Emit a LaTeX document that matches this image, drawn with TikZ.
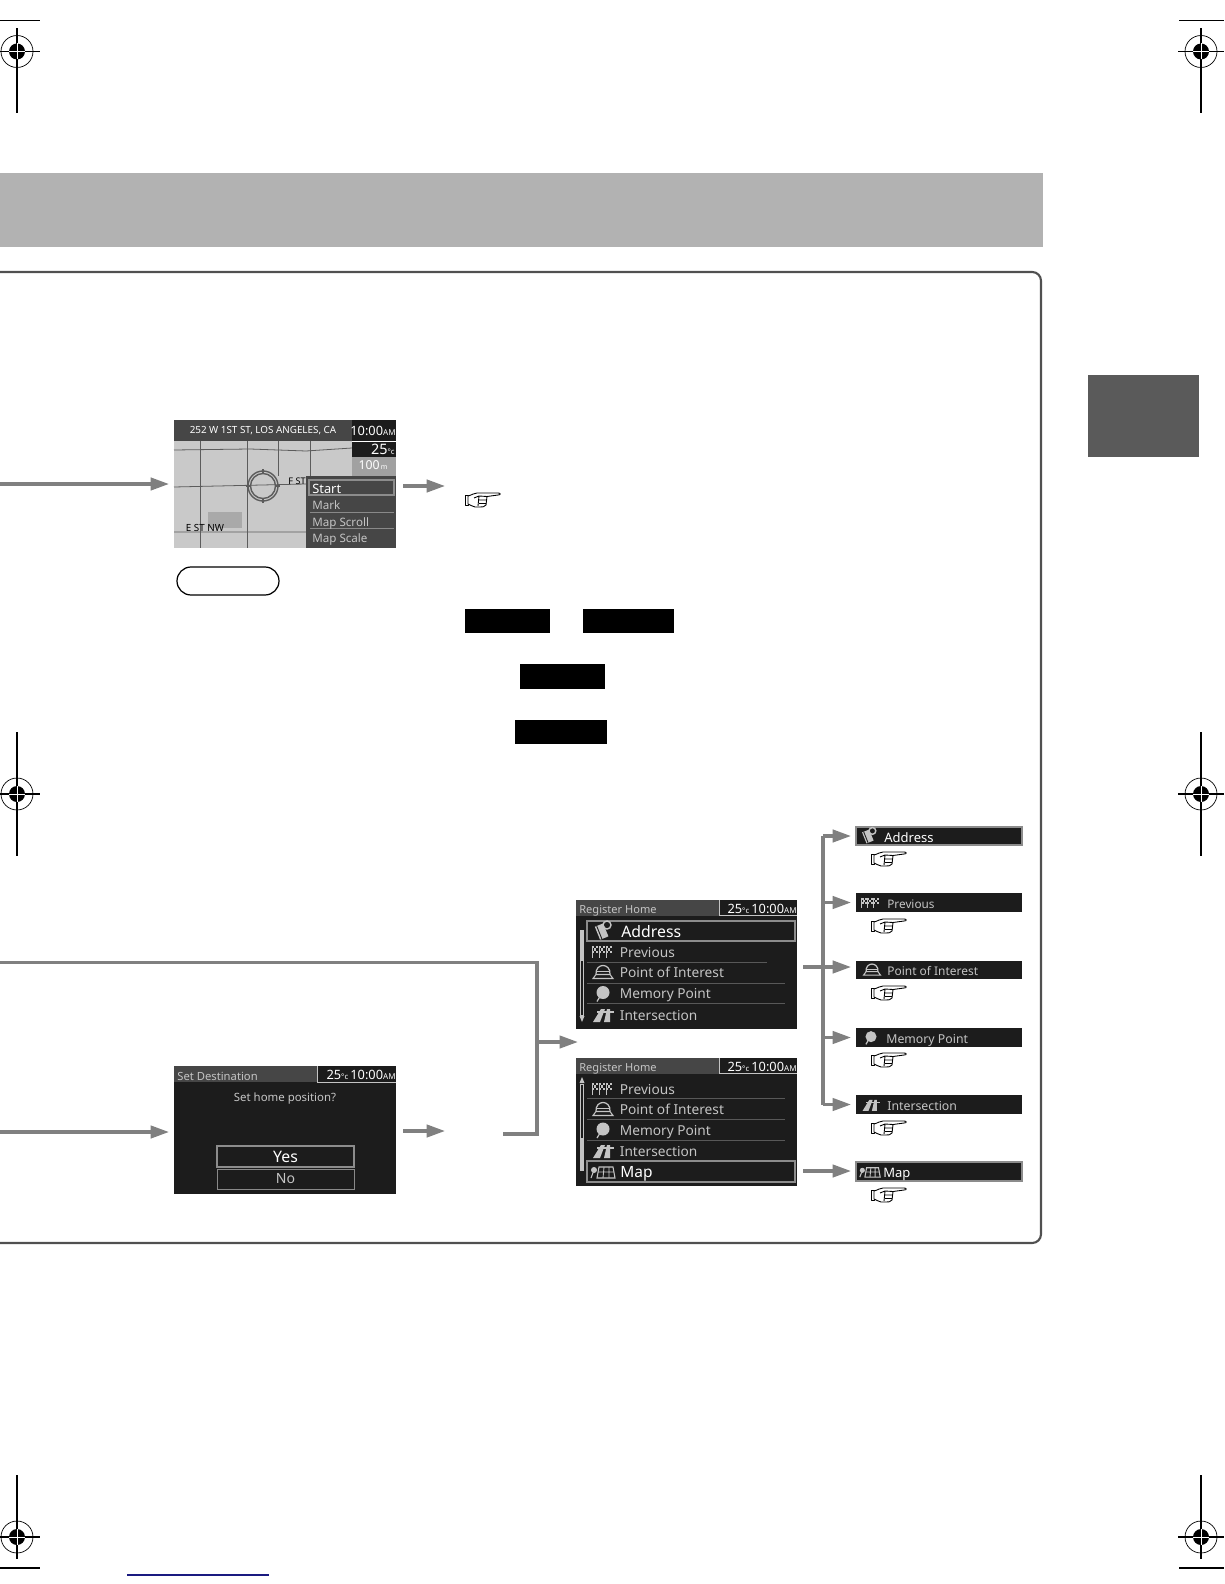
\documentclass[tikz,border=0pt]{standalone}
\usepackage{fontspec}
\setmainfont{Noto Sans}
\usetikzlibrary{arrows.meta,positioning}
\definecolor{flowgray}{HTML}{808080}
\definecolor{bandgray}{HTML}{B2B2B2}
\definecolor{tabgray}{HTML}{5A5A5A}
\definecolor{framegray}{HTML}{505050}
\definecolor{scrdark}{HTML}{1C1C1C}
\definecolor{headgray}{HTML}{464646}
\definecolor{rowgray}{HTML}{C4C4C4}
\definecolor{curgray}{HTML}{8C8C8C}
\definecolor{mapgray}{HTML}{C9C9C9}
\definecolor{roadgray}{HTML}{5C5C5C}
\definecolor{linkblue}{HTML}{1A1A80}
\newcommand{\tinydeg}{{\fontsize{4.4}{5}\selectfont°c}}
\newcommand{\smallam}{{\fontsize{4.6}{5}\selectfont AM}}
\newcommand{\pt}[1]{\fontsize{#1}{#1}\selectfont}
\tikzset{
  box/.style 2 args={minimum width=#1*0.02cm,minimum height=#2*0.02cm,inner sep=0pt,outer sep=0pt},
  flow/.style={draw=flowgray,line width=1.9pt,shorten >=2.8pt,-{Triangle[length=10.5pt,width=7pt]}},
  feed/.style={draw=flowgray,line width=1.9pt},
  screen/.style={fill=scrdark},
  head/.style={fill=headgray},
  cursor/.style={draw=curgray,line width=1pt},
  blackout/.style={fill=black},
  rowtxt/.style={anchor=west,inner sep=0pt,text=rowgray,text height=6.5pt,text depth=.8pt,font=\pt{7.8}},
  thinsep/.style={draw=rowgray!45!black,line width=.4pt},
  handicon/.pic={
    \draw[line width=.5pt,fill=white,line join=round] (-18,-5) rectangle (-15,5);
    \draw[line width=.5pt,fill=white,line join=round] (-15,-4) .. controls (-11,-5) and (-9,-7) .. (-6,-7)
      -- (15,-7) .. controls (18,-7) and (18,-5) .. (15,-5) -- (4,-3.5) -- (3,5) .. controls (2,7) and (-1,7) .. (-3,7)
      -- (-8,7) .. controls (-11,6) and (-13,5) .. (-15,4) -- cycle;
    \draw[line width=.5pt] (-9,-2) -- (-4,-4) -- (4,-3.5) (-4,0) -- (3.5,0) (-4,3.5) -- (3,3.5) (-4,-4) -- (-5,6);
  },
  addressicon/.pic={
    \fill[rowgray,rotate=22] (-6,-7) rectangle (3,7);
    \draw[scrdark,line width=.5pt,rotate=22] (-4,-7) -- (-4,7);
    \draw[rowgray,line width=.8pt] (4,-6) circle (4);
  },
  previousicon/.pic={
    \foreach \f in {-11,-4,3}{
      \draw[rowgray,line width=.5pt] (\f,-6) -- (\f,6);
      \foreach \i/\j in {0/0,4/0,2/1,0/2,4/2}
        \fill[rowgray] (\f+\i,-6+\j*2.4) rectangle +(2.2,2.4);
    }
  },
  poiicon/.pic={
    \draw[rowgray,line width=.6pt] (-10,6) -- (-7,2) -- (7,2) -- (10,6) -- cycle;
    \draw[rowgray,line width=.7pt] (-7,2) .. controls (-8,-10) and (8,-10) .. (7,2);
    \draw[rowgray,line width=.6pt] (-7,-1) -- (7,-1);
  },
  memoryicon/.pic={
    \fill[rowgray] (0,-1) circle (6.5);
    \draw[rowgray,line width=.7pt] (-3,3) -- (-6,8);
  },
  crossicon/.pic={
    \fill[rowgray] (-10,7) -- (-2,-6) -- (2,-6) -- (-3,7) -- cycle;
    \fill[rowgray] (1,7) -- (4,-6) -- (7,-6) -- (7,7) -- cycle;
    \fill[rowgray] (-6,-4) rectangle (11,-2);
  },
  mapicon/.pic={
    \draw[rowgray,line width=.6pt] (-4,-5) -- (10,-5) -- (12,6) -- (-6,6) -- cycle;
    \draw[rowgray,line width=.5pt] (-5,0) -- (11,0) (1,-5) -- (0,6) (6,-5) -- (6,6);
    \fill[rowgray] (-9,-2) circle (3);
    \draw[rowgray,line width=.6pt] (-9,-2) -- (-12,6);
  },
}
\begin{document}
\begin{tikzpicture}[x=0.02cm,y=-0.02cm]
\useasboundingbox (0,0) rectangle (1224,1584);
% page marks
\foreach \cx/\cy/\a/\b in {17/51.5/-23/62,1201/51.5/-23/62,17/794/-62/62,1201/794/-62/62,17/1537/-62/22,1201/1537/-62/22}{
  \draw[line width=.6pt] (\cx,\cy+\a) -- (\cx,\cy+\b);
  \draw[line width=.6pt] (\cx-23,\cy) -- (\cx+23,\cy);
  \draw[line width=.4pt] (\cx,\cy) circle (16);
  \fill (\cx,\cy) circle (8);
  \draw[white,line width=.5pt] (\cx-8,\cy) -- (\cx+8,\cy) (\cx,\cy-8) -- (\cx,\cy+8);
}
\draw[line width=.6pt] (0,20.5) -- (40,20.5) (1179,20.5) -- (1224,20.5);
\draw[line width=.6pt] (0,1568) -- (40,1568) (1179,1568) -- (1224,1568);
\draw[linkblue,line width=.6pt] (127,1575) -- (269,1575);
% band, tab, frame
\fill[bandgray] (0,173) rectangle (1043,247);
\fill[tabgray] (1088,375) rectangle (1199,457);
\draw[framegray,line width=1.2pt,rounded corners=5pt] (-5,272) -- (1041,272) -- (1041,1243) -- (-5,1243);
% map screen
\node[box={222}{128},fill=mapgray] (mapscreen) at (285,484) {};
\fill[black!16!mapgray] (208,512) rectangle (242,528);
\draw[roadgray,line width=.45pt] (200,441) -- (200,548) (247,441) -- (247,548) (278,441) -- (278,476) (310,441) -- (310,476);
\draw[roadgray,line width=.45pt] (174,450) -- (250,449) -- (306,451) -- (352,448) (174,487) -- (306,484) (174,532) -- (306,532);
\foreach \r in {0,90,180,270}
  \draw[roadgray,line width=1pt,rotate around={\r:(263,486)}] (263,469) -- (263,474);
\draw[roadgray,line width=.8pt] (263,486) circle (15) circle (12.5);
\node[head,box={178}{21},anchor=north west] (maphead) at (174,420) {};
\node[text=white,font=\pt{5.6}] (mapaddr) at (263,431) {252 W 1ST ST, LOS ANGELES, CA};
\node[screen,box={44}{37},anchor=north west] (mapclock) at (352,420) {};
\draw[white,line width=.5pt] (352,441) -- (396,441);
\node[text=white,anchor=east,inner sep=0pt,font=\pt{7.3}] (mapclocktxt) at (396,431) {10:00\smallam};
\node[text=white,anchor=east,inner sep=0pt,font=\pt{8.2}] (maptemp) at (395,449) {25\tinydeg};
\node[box={44}{19},anchor=north west,fill=black!20!mapgray] (mapscale) at (352,457) {};
\node[text=white,inner sep=0pt,font=\pt{7}] (mapscaletxt) at (373,465) {100{\pt{4}\,m}};
\node[font=\pt{5.2},text=black,inner sep=0pt] (fst) at (297,481) {F ST};
\node[font=\pt{5.6},text=black,inner sep=0pt] (estnw) at (205,528) {E ST NW};
\node[fill=headgray,box={90}{72},anchor=north west] (mapmenu) at (306,476) {};
\node[cursor,box={85}{15},anchor=north west] (startrow) at (309,480) {};
\draw[thinsep,draw=rowgray!70!black] (310,512) -- (394,512) (310,528) -- (394,528);
\node[rowtxt,text=white,font=\pt{7.3}] (startitem) at (312,488) {Start};
\foreach \n/\t/\y in {markitem/Mark/504.5,scrollitem/Map Scroll/521,scaleitem/Map Scale/537.5}
  \node[rowtxt,font=\pt{6.6}] (\n) at (312,\y) {\t};
% first row arrows
\coordinate (mapfeed) at (0,484);
\coordinate (mapout) at (403,486);
\coordinate (mapnext) at (450,486);
\draw[flow] (mapfeed) -- (mapscreen.west);
\draw[flow] (mapout) -- (mapnext);
\pic at (483,500) {handicon};
% pill and black boxes
\node[draw=black,line width=.7pt,rounded corners=14*0.02cm,box={102}{28}] (pillmark) at (228,581) {};
\node[blackout,box={85}{24}] (keyone) at (507.5,621) {};
\node[blackout,box={91}{24}] (keytwo) at (628.5,621) {};
\node[blackout,box={85}{25}] (keythree) at (562.5,676) {};
\node[blackout,box={92}{24}] (keyfour) at (561,732) {};
% confirm screen
\node[screen,box={222}{128},anchor=north west] (confirmscreen) at (174,1066) {};
\node[head,box={143}{16},anchor=north west] (confirmhead) at (174,1066) {};
\draw[rowgray,line width=.4pt] (317,1066) -- (317,1082) -- (396,1082);
\node[rowtxt,font=\pt{6.4}] (confirmtitle) at (177,1075) {Set Destination};
\node[text=white,anchor=east,inner sep=0pt,font=\pt{7.3}] (confirmclock) at (396,1075) {25\tinydeg\,10:00\smallam};
\node[text=rowgray,inner sep=0pt,font=\pt{6.5}] (confirmask) at (285,1099) {Set home position?};
\node[cursor,box={137}{21},anchor=north west,text=white,font=\pt{9}] (yesbox) at (217,1146) {Yes};
\node[draw=rowgray!70!black,line width=.5pt,box={137}{20},anchor=north west,text=rowgray,font=\pt{8}] (nobox) at (217,1169) {No};
% register screens
\node[screen,box={221}{129},anchor=north west] (regtop) at (576,900) {};
\node[screen,box={221}{128},anchor=north west] (regbot) at (576,1058) {};
\foreach \s/\y in {regtop/900,regbot/1058}{
  \node[head,box={143}{15.5},anchor=north west] (\s head) at (576,\y) {};
  \draw[rowgray,line width=.4pt] (719,\y) -- (719,\y+15.5) -- (797,\y+15.5);
  \node[rowtxt,font=\pt{6.3}] (\s title) at (579,\y+8.5) {Register Home};
  \node[text=white,anchor=east,inner sep=0pt,font=\pt{7.3}] (\s clock) at (797,\y+8.5) {25\tinydeg\,10:00\smallam};
}
\node[cursor,box={208}{20},anchor=north west] (addressrow) at (587,921) {};
\node[cursor,box={208}{21},anchor=north west] (maprow) at (587,1161) {};
\pic at (603,931) {addressicon};
\node[rowtxt,text=white,font=\pt{9}] (addressitem) at (621,932) {Address};
\foreach \n/\t/\p/\y in {prevtop/Previous/previousicon/952,poitop/Point of Interest/poiicon/972.5,memtop/Memory Point/memoryicon/993.5,crosstop/Intersection/crossicon/1015,
  prevbot/Previous/previousicon/1089,poibot/Point of Interest/poiicon/1109.5,membot/Memory Point/memoryicon/1130,crossbot/Intersection/crossicon/1151}{
  \pic at (603,\y) {\p};
  \node[rowtxt] (\n) at (619.5,\y) {\t};
}
\pic at (603,1172) {mapicon};
\node[rowtxt,text=white,font=\pt{8.8}] (mapitem) at (620,1172.5) {Map};
\draw[thinsep] (587,962) -- (767,962) (587,983) -- (785,983) (587,1003) -- (785,1003);
\draw[thinsep] (587,1098) -- (785,1098) (587,1119) -- (785,1119) (587,1140) -- (785,1140);
% scroll bars
\draw[rowgray,line width=.3pt] (580.5,930) rectangle (583.5,1015);
\fill[rowgray] (580.5,930) rectangle (583.5,961);
\fill[rowgray] (579.5,1016) -- (584.5,1016) -- (582,1022) -- cycle;
\draw[rowgray,line width=.3pt] (580.5,1084) rectangle (583.5,1170);
\fill[rowgray] (580.5,1138) rectangle (583.5,1170);
\fill[rowgray] (579.5,1083) -- (584.5,1083) -- (582,1077) -- cycle;
% result bars
\node[screen,cursor,box={166}{18},anchor=north west] (addressbar) at (856,827) {};
\node[screen,box={166}{19},anchor=north west] (previousbar) at (856,893) {};
\node[screen,box={166}{18},anchor=north west] (poibar) at (856,961) {};
\node[screen,box={166}{19},anchor=north west] (memorybar) at (856,1028) {};
\node[screen,box={166}{19},anchor=north west] (crossbar) at (856,1095) {};
\node[screen,cursor,box={166}{19},anchor=north west] (mapbar) at (856,1162) {};
\pic[scale=.85] at (869,836) {addressicon};
\pic[scale=.85] at (871,903) {previousicon};
\pic[scale=.85] at (872,970) {poiicon};
\pic[scale=.85] at (871,1037.5) {memoryicon};
\pic[scale=.85] at (871,1105) {crossicon};
\pic[scale=.85] at (870,1172) {mapicon};
\node[rowtxt,text=white,font=\pt{7.4}] (addresslbl) at (884,837) {Address};
\node[rowtxt,font=\pt{6.7}] (previouslbl) at (887,903) {Previous};
\node[rowtxt,font=\pt{6.8}] (poilbl) at (887,970) {Point of Interest};
\node[rowtxt,font=\pt{7}] (memorylbl) at (886,1038) {Memory Point};
\node[rowtxt,font=\pt{7}] (crosslbl) at (887,1105) {Intersection};
\node[rowtxt,text=white,font=\pt{7.4}] (maplbl) at (883,1172) {Map};
\foreach \y in {859,926,993,1060,1128,1195}
  \pic at (889,\y) {handicon};
% lower connectors
\coordinate (confirmfeed) at (0,1132);
\coordinate (confirmout) at (403,1131);
\coordinate (confirmnext) at (450,1131);
\coordinate (loopin) at (0,962.5);
\coordinate (loopend) at (503,1134);
\coordinate (loopmid) at (537,1042);
\coordinate (loopnext) at (578,1042);
\draw[flow] (confirmfeed) -- (confirmscreen.west |- confirmfeed);
\draw[flow] (confirmout) -- (confirmnext);
\draw[feed] (loopin) -| (loopend -| loopmid) -- (loopend);
\draw[flow,shorten >=0pt] (loopmid) -- (loopnext);
\coordinate (trunk) at (823,835);
\coordinate (regout) at (803,967);
\coordinate (listout) at (803,1171);
\draw[feed] (trunk |- addressbar.west) -- (trunk |- crossbar.west);
\foreach \b in {addressbar,previousbar,memorybar,crossbar}
  \draw[flow] (trunk |- \b.west) -- (\b.west);
\draw[flow] (regout) -- (regout -| poibar.west);
\draw[flow] (listout) -- (listout -| mapbar.west);
\end{tikzpicture}
\end{document}
